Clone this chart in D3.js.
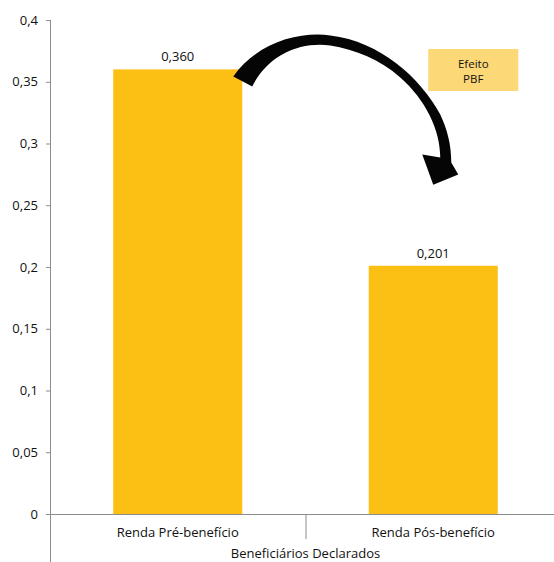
<!DOCTYPE html>
<html>
<head>
<meta charset="utf-8">
<script src="https://cdn.jsdelivr.net/npm/d3@7"></script>
<style>
  html, body { margin: 0; padding: 0; background: #fff; }
  svg text { font-family: "Open Sans", "Noto Sans", sans-serif; fill: #111; font-weight: 500; }
</style>
</head>
<body>
<svg id="chart" width="554" height="562"></svg>
<script>
// Income before and after the benefit, declared beneficiaries
const categories = ["Renda Pré-benefício", "Renda Pós-benefício"];
const values = [0.360, 0.201];
const valueLabels = ["0,360", "0,201"];
const yTicks = [0, 0.05, 0.1, 0.15, 0.2, 0.25, 0.3, 0.35, 0.4];
const yTickLabels = ["0", "0,05", "0,1", "0,15", "0,2", "0,25", "0,3", "0,35", "0,4"];
const groupTitle = "Beneficiários Declarados";
const noteLines = ["Efeito", "PBF"];

const svg = d3.select("#chart");
const margin = { left: 50, right: -7, top: 20, bottom: 48 };
const W = 554, H = 562;
const plotBottom = H - margin.bottom; // 514

const x = d3.scaleBand().domain(categories).range([margin.left, W - margin.right]).paddingInner(0).paddingOuter(0);
const y = d3.scaleLinear().domain([0, 0.4]).range([plotBottom, margin.top]);

const barColor = "#FCBF14";
const axisColor = "#8c8c8c";

// bars
const barW = x.bandwidth() * 0.505;
svg.append("g").selectAll("rect").data(values).join("rect")
  .attr("x", (d, i) => x(categories[i]) + (x.bandwidth() - barW) / 2)
  .attr("y", d => y(d))
  .attr("width", barW)
  .attr("height", d => plotBottom - y(d))
  .attr("fill", barColor);

// value labels
svg.append("g").selectAll("text").data(values).join("text")
  .attr("x", (d, i) => x(categories[i]) + x.bandwidth() / 2)
  .attr("y", d => y(d) - 8)
  .attr("text-anchor", "middle")
  .attr("font-size", 13)
  .text((d, i) => valueLabels[i]);

// y axis
const yAxis = d3.axisLeft(y).tickValues(yTicks).tickSize(4).tickPadding(8)
  .tickFormat((d, i) => yTickLabels[i]);
const gy = svg.append("g").attr("transform", `translate(${margin.left},0)`).call(yAxis);
gy.select(".domain").remove();
gy.selectAll(".tick line").attr("stroke", axisColor);
gy.selectAll(".tick text").attr("font-size", 13).attr("fill", "#111")
  .style("font-family", "'Open Sans', 'Noto Sans', sans-serif")
  .style("font-weight", 500);
svg.append("line")
  .attr("x1", margin.left + 0.5).attr("x2", margin.left + 0.5)
  .attr("y1", y(0.4)).attr("y2", H)
  .attr("stroke", axisColor);

// x axis baseline
svg.append("line")
  .attr("x1", margin.left).attr("x2", W)
  .attr("y1", plotBottom + 0.5).attr("y2", plotBottom + 0.5)
  .attr("stroke", axisColor);

// separator between categories
svg.append("line")
  .attr("x1", x(categories[1]) + 0.5).attr("x2", x(categories[1]) + 0.5)
  .attr("y1", plotBottom).attr("y2", plotBottom + 25)
  .attr("stroke", axisColor);

// category labels
svg.append("g").selectAll("text").data(categories).join("text")
  .attr("x", d => x(d) + x.bandwidth() / 2)
  .attr("y", plotBottom + 23)
  .attr("text-anchor", "middle")
  .attr("font-size", 13)
  .text(d => d);

// group title
svg.append("text")
  .attr("x", x(categories[1]))
  .attr("y", plotBottom + 44)
  .attr("text-anchor", "middle")
  .attr("font-size", 13)
  .text(groupTitle);

// curved arrow from first bar to second bar
const ax0 = x(categories[0]) + (x.bandwidth() + barW) / 2; // right edge of first bar
const ay0 = y(values[0]);
const ax1 = x(categories[1]) + x.bandwidth() / 2;       // centre of second bar
const ay1 = y(values[1]);
const p = (dx, dy) => `${ax0 + dx},${ay0 + dy}`;
const arrowPath = [
  `M${p(-9, 7)}`,
  `C${p(16, -28)} ${p(58, -38)} ${p(88, -34)}`,
  `C${p(138, -28)} ${p(178, 8)} ${p(198, 45)}`,
  `C${p(205, 60)} ${p(209, 75)} ${p(209, 93)}`,
  `L${p(216, 105)}`,
  `L${ax1},${ay1 - 81}`,
  `L${p(180, 85)}`,
  `L${p(198, 88)}`,
  `C${p(198, 60)} ${p(183, 30)} ${p(158, 8)}`,
  `C${p(138, -10)} ${p(113, -20)} ${p(88, -24)}`,
  `C${p(58, -28)} ${p(26, -15)} ${p(10, 17)}`,
  "Z"
].join(" ");
svg.append("path").attr("d", arrowPath).attr("fill", "#050505");

// note box
const boxX = x(categories[1]) + x.bandwidth() / 2 - 5;
svg.append("rect")
  .attr("x", boxX).attr("y", 49)
  .attr("width", 90).attr("height", 42)
  .attr("fill", "#FDD877");
svg.append("g").selectAll("text").data(noteLines).join("text")
  .attr("x", boxX + 45)
  .attr("y", (d, i) => 67.5 + i * 15)
  .attr("text-anchor", "middle")
  .attr("font-size", 11.5)
  .text(d => d);
</script>
</body>
</html>
